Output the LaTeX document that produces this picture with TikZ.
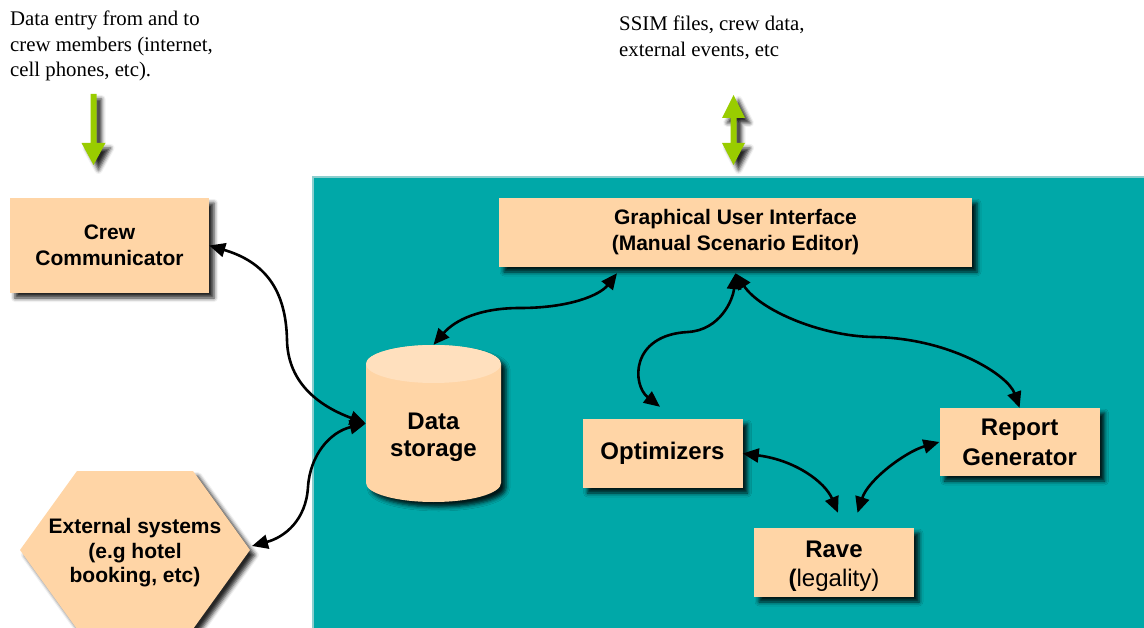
\documentclass[tikz,border=0pt]{standalone}
\usepackage{fontspec}
\setmainfont{Liberation Serif}
\setsansfont{Liberation Sans}
\usetikzlibrary{arrows.meta,shadows.blur,calc}
\definecolor{bgteal}{RGB}{0,168,168}
\definecolor{edgeteal}{RGB}{140,206,206}
\definecolor{peach}{RGB}{255,213,166}
\definecolor{lightpeach}{RGB}{255,224,190}
\definecolor{arrowgreen}{RGB}{153,204,0}
\begin{document}
\begin{tikzpicture}[x=1pt,y=1pt,
  shad/.style={blur shadow={shadow xshift=5pt,shadow yshift=-5pt,shadow blur radius=4pt,shadow opacity=85}},
  box/.style={fill=peach, inner sep=0, align=center, shad},
  smalltxt/.style={font=\sffamily\bfseries\fontsize{21}{26}\selectfont},
  bigtxt/.style={font=\sffamily\bfseries\fontsize{24}{29}\selectfont},
  note/.style={font=\fontsize{20.8}{25.5}\selectfont, align=left, inner sep=0, anchor=north west},
  conn/.style={line width=2.6pt, black, {Triangle[length=16pt,width=14pt]}-{Triangle[length=16pt,width=14pt]}},
  greenarrow/.style={fill=arrowgreen, shad},
]
\useasboundingbox (0,0) rectangle (1144,-628);

% background panel
\fill[bgteal] (312,-176) rectangle (1144,-628);
\draw[edgeteal, line width=2pt] (313,-628) -- (313,-177) -- (1144,-177);

% notes
\node[note] (note1) at (10,-11) {Data entry from and to\\crew members (internet,\\cell phones, etc).};
\node[note] (note2) at (619,-16) {SSIM files, crew data,\\external events, etc};

% green arrows
\path[greenarrow] (90.5,-94) -- (96.5,-94) -- (96.5,-143) -- (105.5,-143) -- (93.5,-165) -- (81.5,-143) -- (90.5,-143) -- cycle;
\path[greenarrow] (733.5,-95) -- (745,-118) -- (736.5,-118) -- (736.5,-143) -- (745,-143) -- (733.5,-165) -- (722,-143) -- (730.5,-143) -- (730.5,-118) -- (722,-118) -- cycle;

% boxes
\node[box, smalltxt, minimum width=199, minimum height=95] (crew) at (109.5,-245.5) {Crew\\Communicator};
\node[box, smalltxt, minimum width=473, minimum height=69] (gui) at (735.5,-232.5) {Graphical User Interface\\(Manual Scenario Editor)};
\node[box, bigtxt, minimum width=160, minimum height=69] (opt) at (662.5,-453.5) {Optimizers};
\node[box, bigtxt, font=\sffamily\bfseries\fontsize{24}{30}\selectfont, minimum width=160, minimum height=68] (report) at (1019.6,-442) {Report\\Generator};
\node[box, bigtxt, minimum width=160, minimum height=69] (rave) at (834,-562.5) {\rule{0pt}{24pt}Rave\\\textmd{\textbf{(}legality)}};

% data storage cylinder
\path[fill=peach, shad] (366,-364) -- (366,-483) arc[start angle=180,end angle=360,x radius=67.5,y radius=19] -- (501,-364) arc[start angle=0,end angle=180,x radius=67.5,y radius=19] -- cycle;
\fill[lightpeach] (433.5,-364) ellipse[x radius=67.5,y radius=19];
\node[minimum width=135, minimum height=157, inner sep=0] (ds) at (433.5,-423.5) {};
\node[font=\sffamily\bfseries\fontsize{24}{27}\selectfont, align=center, inner sep=0] (dstext) at (433.5,-437.5) {Data\\storage};

% external systems hexagon
\path[fill=peach, shad] (20,-550) -- (77,-471) -- (193,-471) -- (250,-550) -- (193,-629) -- (77,-629) -- cycle;
\node[font=\sffamily\bfseries\fontsize{21}{24.5}\selectfont, align=center, inner sep=0] (ext) at (135,-553) {External systems\\(e.g hotel\\booking, etc)};
\coordinate (extr) at (252,-546);

% connectors
\draw[conn] (crew.east) .. controls (265,-262) and (286,-290) .. (287,-340) .. controls (288,-390) and (330,-410) .. (ds.west);
\draw[conn] (ds.west) .. controls (330,-432) and (310,-455) .. (308,-487) .. controls (306,-520) and (285,-537) .. (extr);
\draw[conn] (ds.north) .. controls (455,-320) and (480,-308) .. (520,-308) .. controls (570,-308) and (600,-295) .. ([xshift=-118.5pt,yshift=-6pt]gui.south);
\draw[conn] ([xshift=-2.5pt,yshift=12pt]opt.north) .. controls (632,-385) and (630,-335) .. (688,-332) .. controls (720,-330) and (733,-300) .. ([yshift=-6pt]gui.south);
\draw[conn] ([yshift=-6pt]gui.south) .. controls (760,-310) and (820,-336) .. (873,-337) .. controls (950,-338) and (1008,-375) .. (report.north);
\draw[conn] (opt.east) .. controls (795,-460) and (825,-482) .. ([xshift=4pt,yshift=15pt]rave.north);
\draw[conn] (report.west) .. controls (905,-452) and (868,-480) .. ([xshift=23.5pt,yshift=15pt]rave.north);
\end{tikzpicture}
\end{document}
